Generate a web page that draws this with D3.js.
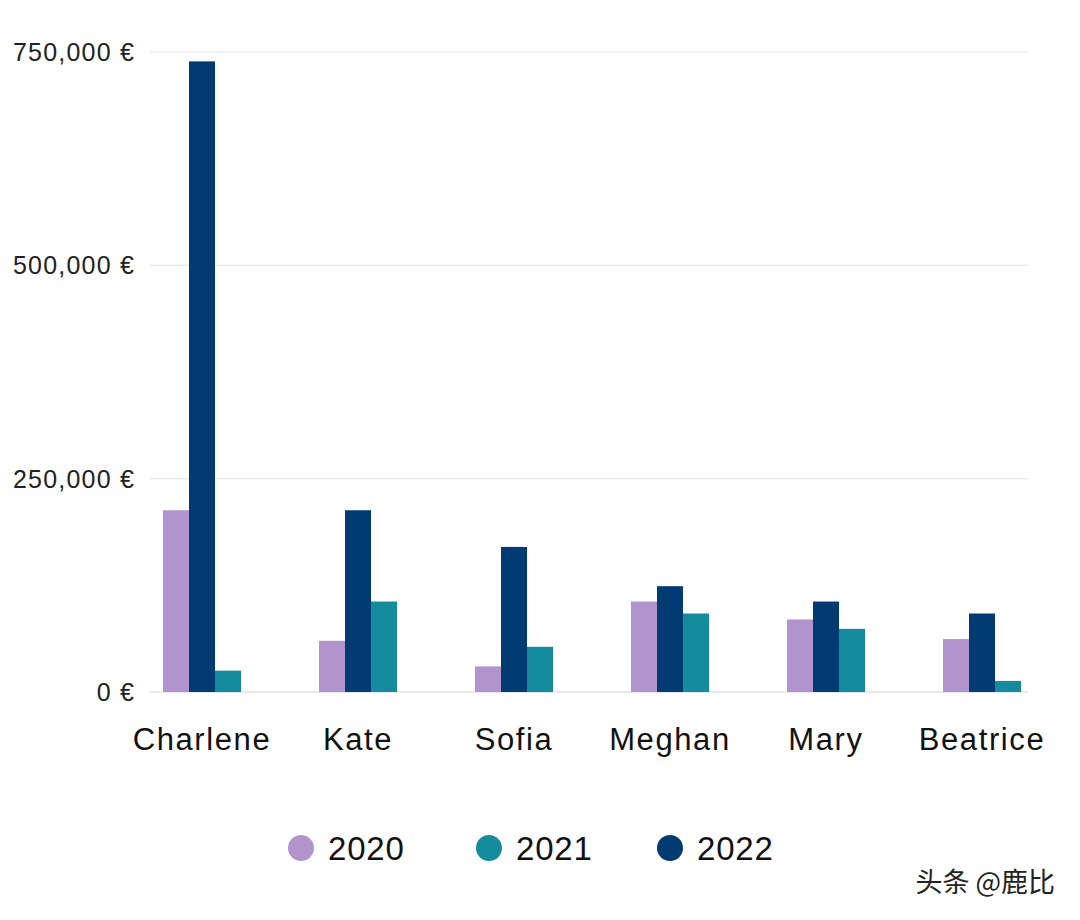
<!DOCTYPE html>
<html>
<head>
<meta charset="utf-8">
<script src="https://cdn.jsdelivr.net/npm/d3@7"></script>
<style>
  body { margin: 0; background: #fff; }
  svg { display: block; font-family: "Liberation Sans", Arial, sans-serif; }
</style>
</head>
<body>
<div id="chart"></div>
<script>
const width = 1080;
const height = 920;

// data (euros)
const names = ["Charlene", "Kate", "Sofia", "Meghan", "Mary", "Beatrice"];
const years = ["2020", "2021", "2022"];
const barOrder = ["2020", "2022", "2021"]; // order of bars inside a group
const v2020 = [213000, 60000, 30000, 106000, 85000, 62000];
const v2021 = [25000, 106000, 53000, 92000, 74000, 13000];
const v2022 = [739000, 213000, 170000, 124000, 106000, 92000];
const yTicks = [0, 250000, 500000, 750000];
const colors = { "2020": "#b194cb", "2021": "#148c9e", "2022": "#023b72" };

const values = { "2020": v2020, "2021": v2021, "2022": v2022 };

const svg = d3.select("#chart")
    .append("svg")
        .attr("width", width)
        .attr("height", height);

const x = d3.scaleBand()
    .domain(names)
    .range([124, 1060])
    .paddingInner(0.5)
    .paddingOuter(0.25);

const xInner = d3.scaleBand()
    .domain(barOrder)
    .range([0, x.bandwidth()]);

const y = d3.scaleLinear()
    .domain([0, 750000])
    .range([692, 52]);

// gridlines
svg.append("g")
    .selectAll("line")
    .data(yTicks)
    .join("line")
        .attr("x1", 150)
        .attr("x2", 1028)
        .attr("y1", d => y(d))
        .attr("y2", d => y(d))
        .attr("stroke", d => d === 0 ? "#e2e2e2" : "#ececec")
        .attr("stroke-width", 1.5);

// y tick labels
svg.append("g")
    .selectAll("text")
    .data(yTicks)
    .join("text")
        .attr("x", 135)
        .attr("y", d => y(d))
        .attr("dy", "0.36em")
        .attr("text-anchor", "end")
        .attr("font-size", 25)
        .attr("letter-spacing", 1.2)
        .attr("fill", "#222")
        .text(d => d3.format(",")(d) + " €");

// bars
const group = svg.append("g")
    .selectAll("g")
    .data(names)
    .join("g")
        .attr("transform", d => `translate(${x(d)},0)`);

group.selectAll("rect")
    .data((d, i) => barOrder.map(yr => ({ year: yr, value: values[yr][i] })))
    .join("rect")
        .attr("x", d => xInner(d.year))
        .attr("width", xInner.bandwidth())
        .attr("y", d => y(d.value))
        .attr("height", d => y(0) - y(d.value))
        .attr("fill", d => colors[d.year]);

// category labels
svg.append("g")
    .selectAll("text")
    .data(names)
    .join("text")
        .attr("x", d => x(d) + x.bandwidth() / 2)
        .attr("y", 750)
        .attr("text-anchor", "middle")
        .attr("font-size", 31)
        .attr("letter-spacing", 1.6)
        .attr("fill", "#111")
        .text(d => d);

// legend
const legendX = [301, 489, 670];
const legend = svg.append("g")
    .selectAll("g")
    .data(years)
    .join("g")
        .attr("transform", (d, i) => `translate(${legendX[i]},848)`);

legend.append("circle")
    .attr("r", 13)
    .attr("fill", d => colors[d]);

legend.append("text")
    .attr("x", 27)
    .attr("y", 12)
    .attr("font-size", 33)
    .attr("letter-spacing", 0.8)
    .attr("fill", "#111")
    .text(d => d);

// watermark
svg.append("text")
    .attr("x", 1055)
    .attr("y", 892)
    .attr("text-anchor", "end")
    .attr("font-family", "'Noto Sans CJK SC', sans-serif")
    .attr("font-size", 27)
    .attr("fill", "#222")
    .text("头条 @鹿比");
</script>
</body>
</html>
